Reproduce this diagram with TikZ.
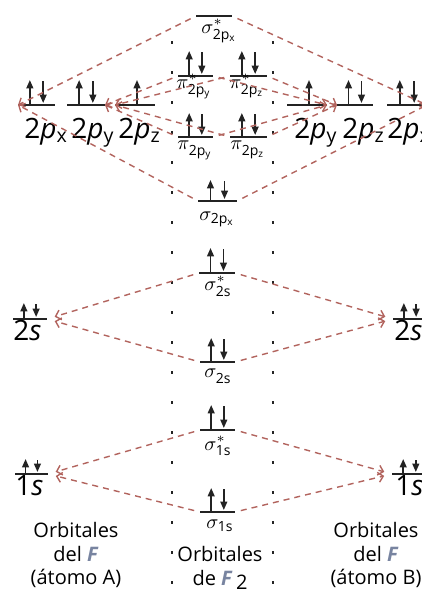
\documentclass[tikz,border=0pt]{standalone}
\usepackage{amsmath}
\usepackage{fontspec}
\setmainfont{Open Sans}
\usetikzlibrary{
  arrows.meta,
  calc
}
\definecolor{linkred}{RGB}{178,100,94}
\definecolor{inkgray}{RGB}{35,35,35}
\definecolor{fgray}{RGB}{120,132,160}
\newcommand{\lvl}[4]{%
  \coordinate (#1-w) at (#2,#4);%
  \coordinate (#1-e) at (#3,#4);%
  \draw[level] (#1-w) -- (#1-e);%
}
\newcommand{\epair}[2]{%
  \draw[spin] ($(#1-w)!0.32!(#1-e)$) -- ++(0,-#2);%
  \draw[spin] ($(#1-w)!0.68!(#1-e)+(0,-#2+1)$) -- ++(0,#2-3);%
}
\newcommand{\eone}[2]{%
  \draw[spin] ($(#1-w)!0.55!(#1-e)$) -- ++(0,-#2);%
}
\tikzset{
  level/.style={inkgray,line width=1.2pt},
  spin/.style={inkgray,line width=0.85pt,-{Triangle[length=4.2pt,width=3.4pt]}},
  conn/.style={linkred,line width=0.7pt,dash pattern=on 3pt off 2.5pt,
    shorten <=3pt,-{Straight Barb[length=2.5pt,width=5pt]}},
  guide/.style={inkgray,line width=1pt,dash pattern=on 1.5pt off 13.5pt},
  aolab/.style={anchor=base west,inner sep=0pt,font=\fontsize{14}{14}\selectfont},
  molab/.style={anchor=base west,inner sep=0pt,font=\fontsize{10}{12}\selectfont},
  foot/.style={anchor=north,align=center,inner sep=0pt,font=\fontsize{10}{11.8}\selectfont}
}

\begin{document}
\begin{tikzpicture}[x=0.5pt,y=-0.5pt]
  \useasboundingbox (0,0) rectangle (422,601);
  \clip (0,0) rectangle (422,601);

  % guides between the columns
  \coordinate (gA1) at (172,41);
  \coordinate (gA2) at (172,592);
  \coordinate (gB1) at (273,41);
  \coordinate (gB2) at (273,592);
  \draw[guide] (gA1) -- (gA2);
  \draw[guide] (gB1) -- (gB2);

  % atom A
  \lvl{A2px}{18}{55}{105}
  \lvl{A2py}{67}{105}{105}
  \lvl{A2pz}{115}{155}{105}
  \lvl{A2s}{13}{47}{319}
  \lvl{A1s}{15}{48}{474}
  \epair{A2px}{25}
  \epair{A2py}{25}
  \eone{A2pz}{25}
  \epair{A2s}{16}
  \epair{A1s}{15}
  \node[aolab] (A2px-lab) at (24,138) {2\textit{p}\textsubscript{x}};
  \node[aolab] (A2py-lab) at (71,138) {2\textit{p}\textsubscript{y}};
  \node[aolab] (A2pz-lab) at (118,138) {2\textit{p}\textsubscript{z}};
  \node[aolab] (A2s-lab) at (13,340) {2\textit{s}};
  \node[aolab] (A1s-lab) at (15,495) {1\textit{s}};

  % atom B
  \lvl{B2py}{287}{327}{105}
  \lvl{B2pz}{337}{373}{105}
  \lvl{B2px}{387}{427}{105}
  \lvl{B2s}{393}{427}{319}
  \lvl{B1s}{392}{427}{474}
  \eone{B2py}{25}
  \epair{B2pz}{25}
  \epair{B2px}{25}
  \epair{B2s}{16}
  \epair{B1s}{15}
  \node[aolab] (B2py-lab) at (294,138) {2\textit{p}\textsubscript{y}};
  \node[aolab] (B2pz-lab) at (342,138) {2\textit{p}\textsubscript{z}};
  \node[aolab] (B2px-lab) at (387,138) {2\textit{p}\textsubscript{x}};
  \node[aolab] (B2s-lab) at (394,340) {2\textit{s}};
  \node[aolab] (B1s-lab) at (395,495) {1\textit{s}};

  % molecule
  \lvl{sgs2p}{196}{232}{16}
  \lvl{pis2py}{178}{213}{76}
  \lvl{pis2pz}{230}{267}{76}
  \lvl{pi2py}{178}{213}{137}
  \lvl{pi2pz}{230}{267}{137}
  \lvl{sg2p}{198}{237}{201}
  \lvl{sgs2s}{199}{235}{273}
  \lvl{sg2s}{200}{235}{362}
  \lvl{sgs1s}{200}{235}{430}
  \lvl{sg1s}{200}{235}{512}
  \epair{pis2py}{25}
  \epair{pis2pz}{25}
  \epair{pi2py}{24}
  \epair{pi2pz}{24}
  \epair{sg2p}{21}
  \epair{sgs2s}{25}
  \epair{sg2s}{24}
  \epair{sgs1s}{25}
  \epair{sg1s}{24}
  \node[molab] (sgs2p-lab) at (201,33) {$\sigma^{*}_{\mathrm{2p_x}}$};
  \node[molab] (pis2py-lab) at (176,88) {$\pi^{*}_{\mathrm{2p_y}}$};
  \node[molab] (pis2pz-lab) at (229,88) {$\pi^{*}_{\mathrm{2p_z}}$};
  \node[molab] (pi2py-lab) at (177,149) {$\pi^{\vphantom{*}}_{\mathrm{2p_y}}$};
  \node[molab] (pi2pz-lab) at (230,149) {$\pi^{\vphantom{*}}_{\mathrm{2p_z}}$};
  \node[molab] (sg2p-lab) at (199,220) {$\sigma_{\mathrm{2p_x}}$};
  \node[molab] (sgs2s-lab) at (204,290) {$\sigma^{*}_{\mathrm{2s}}$};
  \node[molab] (sg2s-lab) at (204,377) {$\sigma^{\vphantom{*}}_{\mathrm{2s}}$};
  \node[molab] (sgs1s-lab) at (204,450) {$\sigma^{*}_{\mathrm{1s}}$};
  \node[molab] (sg1s-lab) at (206,528) {$\sigma_{\mathrm{1s}}$};

  % 2p links
  \draw[conn] (sgs2p-w) -- (A2px-w);
  \draw[conn] (sg2p-w) -- (A2px-w);
  \draw[conn] (sgs2p-e) -- (B2px-e);
  \draw[conn] (sg2p-e) -- (B2px-e);
  \draw[conn] (pis2py-w) -- (A2py-e);
  \draw[conn] (pi2py-w) -- (A2py-e);
  \draw[conn] (pis2pz-w) -- (A2pz-w);
  \draw[conn] (pi2pz-w) -- (A2pz-w);
  \draw[conn] (pis2py-e) -- (B2py-e);
  \draw[conn] (pi2py-e) -- (B2py-e);
  \draw[conn] (pis2pz-e) -- (B2pz-w);
  \draw[conn] (pi2pz-e) -- (B2pz-w);

  % s links
  \draw[conn,shorten >=4pt] (sgs2s-w) -- (A2s-e);
  \draw[conn,shorten >=4pt] (sg2s-w) -- (A2s-e);
  \draw[conn,shorten >=4pt] (sgs2s-e) -- (B2s-w);
  \draw[conn,shorten >=4pt] (sg2s-e) -- (B2s-w);
  \draw[conn,shorten >=4pt] (sgs1s-w) -- (A1s-e);
  \draw[conn,shorten >=4pt] (sg1s-w) -- (A1s-e);
  \draw[conn,shorten >=4pt] (sgs1s-e) -- (B1s-w);
  \draw[conn,shorten >=4pt] (sg1s-e) -- (B1s-w);

  % captions
  \node[foot] (capA) at (76,522) {Orbitales\\del \textcolor{fgray}{\textbf{\textit{F}}}\\(átomo A)};
  \node[foot] (capM) at (220,546) {Orbitales\\de \textcolor{fgray}{\textbf{\textit{F}}}\,\raisebox{-2pt}{2}};
  \node[foot] (capB) at (376,522) {Orbitales\\del \textcolor{fgray}{\textbf{\textit{F}}}\\(átomo B)};
\end{tikzpicture}
\end{document}
